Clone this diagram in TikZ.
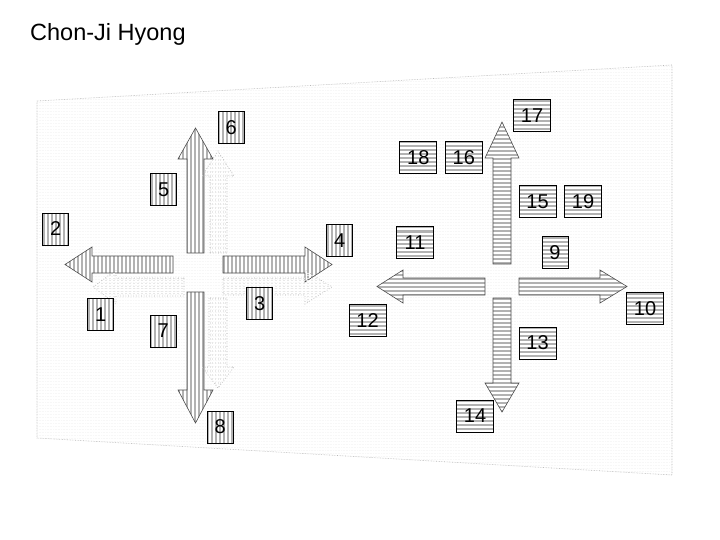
\documentclass[tikz,border=0pt]{standalone}
\usepackage{fontspec}
\setmainfont{Liberation Sans}
\tikzset{
  vstr/.style n args={2}{path picture={
     \foreach \i in {0,4,...,140} {\draw[line width=2pt,#1] ([xshift=\i pt+1pt]path picture bounding box.north west) -- ([xshift=\i pt+1pt]path picture bounding box.south west);}}},
  hstr/.style n args={2}{path picture={
     \foreach \i in {0,4,...,140} {\draw[line width=2pt,#1] ([yshift=-\i pt-1pt]path picture bounding box.north west) -- ([yshift=-\i pt-1pt]path picture bounding box.north east);}}},
  vstripes/.style={fill=white,vstr={black!30}{}},
  hstripes/.style={fill=white,hstr={black!30}{}},
  solidarrow/.style={draw=black!70,line width=0.6pt,line join=miter},
  lightv/.style={vstr={black!9}{},draw=black!32,dotted,line width=0.6pt},
  lighth/.style={hstr={black!9}{},draw=black!32,dotted,line width=0.6pt},
  lab/.style={draw=black,line width=0.7pt,minimum width=26pt,minimum height=32pt,inner sep=0pt,font=\fontsize{20}{22}\selectfont},
  labw/.style={lab,minimum width=37pt},
  bgquad/.style={fill=white,path picture={
     \foreach \i in {0,3,...,420} {\draw[line width=0.8pt,black!3] ([yshift=-\i pt-1pt]path picture bounding box.north west) -- ([yshift=-\i pt-1pt]path picture bounding box.north east);}},
     draw=black!28,densely dotted,line width=0.6pt},
  titlestyle/.style={font=\fontsize{23.5}{27}\selectfont,inner sep=0pt}
}
\begin{document}
\begin{tikzpicture}[x=1pt,y=-1pt]
\useasboundingbox (0,0) rectangle (720,540);
\fill[white] (0,0) rectangle (720,540);
\node[titlestyle,anchor=base west] (title) at (30,41) {Chon-Ji Hyong};
% background plane
\path[bgquad] (37,101) -- (672,65) -- (672,475) -- (37,438) -- cycle;

% ---- left cluster, solid arrows (vertical stripes)
\path[solidarrow,vstripes] (187,253) -- (187,159) -- (178,159) -- (195.5,128) -- (213,159) -- (204,159) -- (204,253) -- cycle;
\path[solidarrow,vstripes] (173,256) -- (92,256) -- (92,247) -- (65,264.5) -- (92,282) -- (92,273) -- (173,273) -- cycle;
\path[solidarrow,vstripes] (223,256) -- (305,256) -- (305,247) -- (332,264.5) -- (305,282) -- (305,273) -- (223,273) -- cycle;
\path[solidarrow,vstripes] (187,292) -- (187,390) -- (178,390) -- (195.5,423) -- (213,390) -- (204,390) -- (204,292) -- cycle;

% ---- left cluster, light arrows
\path[lighth] (210,253) -- (210,176) -- (202,176) -- (218,151) -- (234,176) -- (227,176) -- (227,253) -- cycle;
\path[lightv] (184,278) -- (116,278) -- (116,270) -- (93,287) -- (116,304) -- (116,296) -- (184,296) -- cycle;
\path[lightv] (223,278) -- (305,278) -- (305,270) -- (332,287) -- (305,304) -- (305,295) -- (223,295) -- cycle;
\path[lighth] (209,298) -- (209,367) -- (202,367) -- (218,388) -- (234,367) -- (227,367) -- (227,298) -- cycle;

% ---- right cluster (horizontal stripes)
\path[solidarrow,hstripes] (493,264) -- (493,158) -- (485,158) -- (502,122) -- (519,158) -- (511,158) -- (511,264) -- cycle;
\path[solidarrow,hstripes] (485,278) -- (403,278) -- (403,270) -- (377,286.5) -- (403,303) -- (403,295) -- (485,295) -- cycle;
\path[solidarrow,hstripes] (519,278) -- (600,278) -- (600,270) -- (627,286.5) -- (600,303) -- (600,295) -- (519,295) -- cycle;
\path[solidarrow,hstripes] (493,298) -- (493,383) -- (485,383) -- (502,412) -- (519,383) -- (511,383) -- (511,298) -- cycle;

% ---- labels left
\node[lab,vstripes] (n1) at (100.8,314.5) {1};
\node[lab,vstripes] (n2) at (55.8,229) {2};
\node[lab,vstripes] (n3) at (259.7,303.3) {3};
\node[lab,vstripes] (n4) at (339.8,240.5) {4};
\node[lab,vstripes] (n5) at (163.7,189.5) {5};
\node[lab,vstripes] (n6) at (231.3,127.5) {6};
\node[lab,vstripes] (n7) at (163.3,331) {7};
\node[lab,vstripes] (n8) at (220.3,427) {8};

% ---- labels right
\node[lab,hstripes] (n9) at (555,252.5) {9};
\node[labw,hstripes] (n10) at (645,308.5) {10};
\node[labw,hstripes] (n11) at (415,242.5) {11};
\node[labw,hstripes] (n12) at (367.5,320.5) {12};
\node[labw,hstripes] (n13) at (537.5,343) {13};
\node[labw,hstripes] (n14) at (475,416) {14};
\node[labw,hstripes] (n15) at (537.5,201.5) {15};
\node[labw,hstripes] (n16) at (463.8,157.5) {16};
\node[labw,hstripes] (n17) at (532,115.8) {17};
\node[labw,hstripes] (n18) at (418.3,157.5) {18};
\node[labw,hstripes] (n19) at (583,201.5) {19};
\end{tikzpicture}
\end{document}
